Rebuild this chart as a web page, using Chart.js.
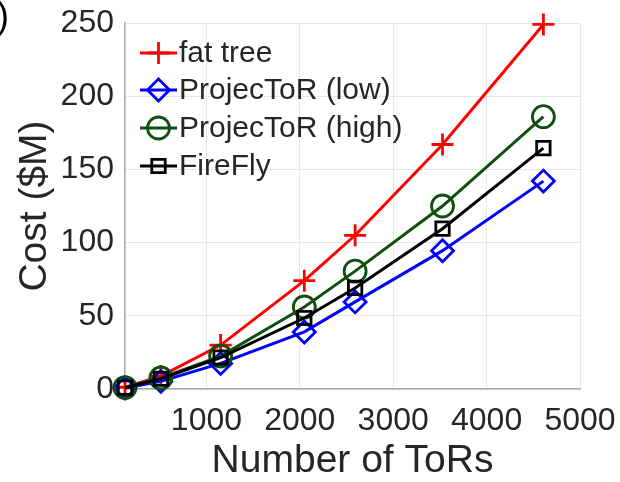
<!DOCTYPE html>
<html>
<head>
<meta charset="utf-8">
<script src="https://cdn.jsdelivr.net/npm/chart.js@4/dist/chart.umd.min.js"></script>
<style>
  html, body { margin: 0; padding: 0; background: #ffffff; }
  #wrap { position: relative; width: 620px; height: 482px; }
</style>
</head>
<body>
<div id="wrap"><canvas id="c" width="620" height="482"></canvas></div>
<script>
// Number of ToRs (k^2/2 for k-port switches)
const tors = [128, 512, 1152, 2048, 2592, 3528, 4608];

// Cost in $M per topology
const fatTree      = [1.2, 8.8, 30, 74, 105, 167, 249];
const projLow      = [0.7, 5.2, 17.5, 39, 59.5, 94.5, 142];
const projHigh     = [1.0, 7.5, 22.5, 56, 80.5, 125, 186];
const fireFly      = [0.9, 7.0, 21.5, 48.5, 69, 109.5, 164.5];

const seriesNames  = ['fat tree', 'ProjecToR (low)', 'ProjecToR (high)', 'FireFly'];

// Axis ticks
const xTicks = [1000, 2000, 3000, 4000, 5000];
const yTicks = [0, 50, 100, 150, 200, 250];

const FONT = '"Liberation Sans", Arial, Helvetica, sans-serif';
const TEXT = '#262626';

function pts(vals) { return tors.map((t, i) => ({ x: t, y: vals[i] })); }

const styles = [
  { color: '#ff0000', pointStyle: 'cross',   radius: 11 },
  { color: '#0000ff', pointStyle: 'rectRot', radius: 11 },
  { color: '#0f4f0f', pointStyle: 'circle',  radius: 11 },
  { color: '#000000', pointStyle: 'rect',    radius: 9.5 }
];
const values = [fatTree, projLow, projHigh, fireFly];

const datasets = values.map((v, i) => ({
  label: seriesNames[i],
  data: pts(v),
  borderColor: styles[i].color,
  backgroundColor: 'rgba(0,0,0,0)',
  borderWidth: 3,
  pointStyle: styles[i].pointStyle,
  pointRadius: styles[i].radius,
  pointBorderColor: styles[i].color,
  pointBackgroundColor: 'rgba(0,0,0,0)',
  pointBorderWidth: 2.8,
  tension: 0,
  clip: false,
  order: values.length - i
}));

// Legend drawn inside the plot: line sample with marker, then label
const insideLegend = {
  id: 'insideLegend',
  afterDatasetsDraw(chart) {
    const ctx = chart.ctx;
    const rows = [53, 90, 128, 166];
    ctx.save();
    chart.data.datasets.forEach((ds, i) => {
      const y = rows[i];
      ctx.strokeStyle = ds.borderColor;
      ctx.lineWidth = ds.borderWidth;
      ctx.beginPath();
      ctx.moveTo(140, y);
      ctx.lineTo(177, y);
      ctx.stroke();
      ctx.fillStyle = ds.pointBackgroundColor;
      ctx.strokeStyle = ds.pointBorderColor;
      ctx.lineWidth = ds.pointBorderWidth;
      Chart.helpers.drawPoint(ctx, {
        pointStyle: ds.pointStyle, radius: ds.pointRadius,
        borderWidth: ds.pointBorderWidth, rotation: 0
      }, 158.5, y);
      ctx.fillStyle = TEXT;
      ctx.font = '30px ' + FONT;
      ctx.textAlign = 'left';
      ctx.textBaseline = 'middle';
      ctx.fillText(ds.label, 179, y + 1);
    });
    // panel tag
    ctx.font = '36px ' + FONT;
    ctx.fillStyle = '#000';
    ctx.textAlign = 'right';
    ctx.textBaseline = 'alphabetic';
    ctx.fillText('(b)', 9, 28);
    ctx.restore();
  }
};

new Chart(document.getElementById('c'), {
  type: 'line',
  data: { datasets },
  options: {
    responsive: false,
    animation: false,
    events: [],
    layout: { padding: { top: 23, right: 40, left: 0, bottom: 0 } },
    plugins: { legend: { display: false }, tooltip: { enabled: false } },
    scales: {
      x: {
        type: 'linear',
        min: 128,
        max: 5000,
        afterBuildTicks(scale) { scale.ticks = xTicks.map(v => ({ value: v })); },
        afterFit(scale) {
          scale.height = 93;
          scale.paddingLeft = 0;
          scale.paddingRight = 0;
        },
        ticks: {
          font: { family: FONT, size: 32 },
          color: TEXT,
          padding: 13,
          maxRotation: 0,
          autoSkip: false,
          callback: v => String(v)
        },
        grid: { color: '#e8e8e8', lineWidth: 1, tickLength: 0, drawTicks: false },
        border: { display: true, color: '#a8a8a8', width: 1.5 },
        title: {
          display: true,
          text: 'Number of ToRs',
          font: { family: FONT, size: 39, lineHeight: 1.05 },
          color: TEXT,
          padding: { top: 0, bottom: 0 }
        }
      },
      y: {
        type: 'linear',
        min: 0,
        max: 250,
        afterBuildTicks(scale) { scale.ticks = yTicks.map(v => ({ value: v })); },
        afterFit(scale) {
          scale.width = 125;
          scale.paddingTop = 0;
          scale.paddingBottom = 0;
        },
        ticks: {
          font: { family: FONT, size: 32 },
          color: TEXT,
          padding: 11,
          autoSkip: false,
          callback: v => String(v)
        },
        grid: { color: '#e8e8e8', lineWidth: 1, tickLength: 0, drawTicks: false },
        border: { display: true, color: '#a8a8a8', width: 1.5 },
        title: {
          display: true,
          text: 'Cost ($M)',
          font: { family: FONT, size: 39, lineHeight: 1.2 },
          color: TEXT,
          padding: { top: 12, bottom: 0 }
        }
      }
    }
  },
  plugins: [insideLegend]
});
</script>
</body>
</html>
